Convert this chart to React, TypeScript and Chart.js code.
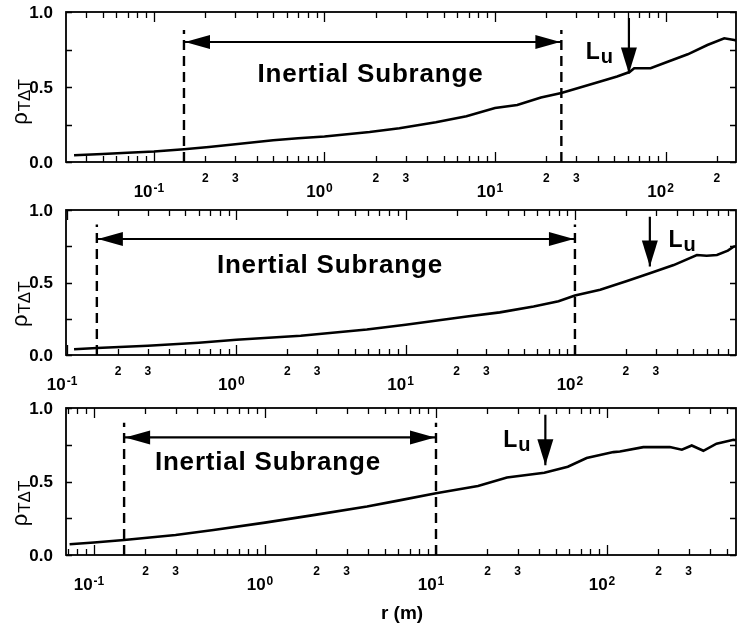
import React, { useEffect, useRef } from "react";
import { Chart, registerables } from "chart.js";

Chart.register(...registerables);

// ---------- data ----------
// Panel 1 (top)
const r1 = [0.034, 0.05, 0.07, 0.1, 0.15, 0.21, 0.3, 0.5, 0.7, 1.0, 1.84, 2.75, 4.5, 6.8, 10, 13.5, 18.6, 24.5, 41, 52, 61.5, 65.5, 81.7, 103, 135, 176, 221, 253, 259];
const rho1 = [0.045, 0.053, 0.062, 0.07, 0.085, 0.1, 0.118, 0.145, 0.158, 0.17, 0.2, 0.225, 0.265, 0.305, 0.36, 0.38, 0.43, 0.46, 0.535, 0.57, 0.6, 0.625, 0.625, 0.668, 0.718, 0.78, 0.825, 0.813, 0.81];
// Panel 2 (middle)
const r2 = [0.11, 0.15, 0.3, 0.6, 1.0, 2.4, 5.9, 10, 23, 36, 57, 80, 100, 141, 203, 277, 383, 525, 600, 690, 800, 865, 894];
const rho2 = [0.04, 0.048, 0.064, 0.085, 0.105, 0.133, 0.176, 0.209, 0.266, 0.294, 0.335, 0.37, 0.41, 0.45, 0.51, 0.564, 0.62, 0.69, 0.685, 0.69, 0.72, 0.747, 0.75];
// Panel 3 (bottom)
const r3 = [0.072, 0.1, 0.15, 0.3, 0.5, 1.0, 1.96, 3.95, 6, 10, 17.6, 26, 43, 59, 76, 109, 119, 163, 233, 274, 313, 366, 437, 549, 568];
const rho3 = [0.073, 0.085, 0.102, 0.136, 0.17, 0.22, 0.273, 0.33, 0.37, 0.42, 0.47, 0.527, 0.56, 0.6, 0.66, 0.7, 0.704, 0.734, 0.734, 0.716, 0.745, 0.709, 0.757, 0.784, 0.78];

const xMins = [0.0305, 0.0986, 0.0686];
const xMaxs = [259, 894, 568];
const yTickValues = [0, 0.5, 1.0];
const yTickLabels = ["0.0", "0.5", "1.0"];
const yMinorTicks = [0.25, 0.75];
const decadeExponents = [-1, 0, 1, 2];
const decadeLabels = ["-1", "0", "1", "2"];
const minorLabelMultipliers = [2, 3];

const subrangeStart = [0.15, 0.15, 0.15];
const subrangeEnd = [24.5, 100, 10];
const subrangeArrowY = [0.8, 0.8, 0.8];
const dashTop = [0.88, 0.9, 0.9];
const subrangeTextX = [1.86, 3.57, 1.04];
const subrangeTextY = [0.533, 0.566, 0.58];
const subrangeText = "Inertial Subrange";

const luX = [61, 277, 43.6];
const luTop = [0.96, 0.954, 0.954];
const luTip = [0.59, 0.61, 0.61];
const luTextX = [34, 357, 24.7];
const luTextY = [0.69, 0.747, 0.738];

const yTitleCenter = [0.4, 0.35, 0.35];
const xTitle = "r (m)";

const curvesR = [r1, r2, r3];
const curvesRho = [rho1, rho2, rho3];

// canvas layout
const canvasTops = [0, 200, 400];
const canvasHeights = [200, 200, 228];
const padTops = [12, 10, 8];
const padBottoms = [38, 45, 73];

const FONT = '"Liberation Sans", Arial, Helvetica, sans-serif';

function drawHead(ctx: CanvasRenderingContext2D, tx: number, ty: number, dx: number, dy: number, len: number, half: number) {
  const bx = tx - dx * len, by = ty - dy * len;
  const nx = -dy, ny = dx;
  ctx.beginPath();
  ctx.moveTo(tx, ty);
  ctx.lineTo(bx + nx * half, by + ny * half);
  ctx.lineTo(bx - nx * half, by - ny * half);
  ctx.closePath();
  ctx.fill();
}

function makeConfig(i: number, isLast: boolean): any {
  const xMin = xMins[i], xMax = xMaxs[i];
  const lineData = curvesR[i].map((x, k) => ({ x, y: curvesRho[i][k] }));
  const black = "#000";

  const overlay = {
    id: "overlay" + i,
    afterDraw(chart: any) {
      const { ctx, chartArea: a, scales } = chart;
      const xs = scales.x, ys = scales.y;
      ctx.save();
      ctx.strokeStyle = black;
      ctx.fillStyle = black;

      // frame
      ctx.lineWidth = 1.8;
      ctx.strokeRect(a.left, a.top, a.right - a.left, a.bottom - a.top);

      // x ticks (inward, top and bottom)
      ctx.lineWidth = 1.3;
      const e0 = Math.floor(Math.log10(xMin)), e1 = Math.ceil(Math.log10(xMax));
      for (let e = e0; e <= e1; e++) {
        for (let m = 1; m <= 9; m++) {
          const v = m * Math.pow(10, e);
          if (v < xMin || v > xMax) continue;
          const px = Math.round(xs.getPixelForValue(v)) + 0.5;
          const len = m === 1 ? 10 : 6;
          ctx.beginPath();
          ctx.moveTo(px, a.bottom);
          ctx.lineTo(px, a.bottom - len);
          ctx.moveTo(px, a.top);
          ctx.lineTo(px, a.top + len);
          ctx.stroke();
        }
      }
      // y ticks (inward, both sides)
      [...yTickValues, ...yMinorTicks].forEach((v) => {
        const py = Math.round(ys.getPixelForValue(v)) + 0.5;
        ctx.beginPath();
        ctx.moveTo(a.left, py);
        ctx.lineTo(a.left + 6, py);
        ctx.moveTo(a.right, py);
        ctx.lineTo(a.right - 6, py);
        ctx.stroke();
      });

      // y tick labels
      ctx.font = `bold 17px ${FONT}`;
      ctx.textAlign = "right";
      ctx.textBaseline = "middle";
      yTickValues.forEach((v, k) => {
        ctx.fillText(yTickLabels[k], a.left - 13, ys.getPixelForValue(v) + 1);
      });

      // x tick labels: minor "2","3" and decades 10^n
      ctx.textBaseline = "alphabetic";
      ctx.textAlign = "center";
      ctx.font = `bold 12px ${FONT}`;
      decadeExponents.forEach((e) => {
        minorLabelMultipliers.forEach((m) => {
          const v = m * Math.pow(10, e);
          if (v < xMin || v > xMax) return;
          ctx.fillText(String(m), xs.getPixelForValue(v), a.bottom + 20);
        });
      });
      decadeExponents.forEach((e, k) => {
        const v = Math.pow(10, e);
        if (v < xMin || v > xMax) return;
        const px = xs.getPixelForValue(v);
        ctx.font = `bold 17px ${FONT}`;
        const w1 = ctx.measureText("10").width;
        ctx.font = `bold 12px ${FONT}`;
        const w2 = ctx.measureText(decadeLabels[k]).width;
        const start = px - 5 - (w1 + w2 + 1) / 2;
        ctx.textAlign = "left";
        ctx.font = `bold 17px ${FONT}`;
        ctx.fillText("10", start, a.bottom + 35);
        ctx.font = `bold 12px ${FONT}`;
        ctx.fillText(decadeLabels[k], start + w1 + 1, a.bottom + 30);
        ctx.textAlign = "center";
      });

      // y title: rho with subscript T Delta T (rotated)
      ctx.save();
      ctx.translate(27, ys.getPixelForValue(yTitleCenter[i]));
      ctx.rotate(-Math.PI / 2);
      ctx.textAlign = "left";
      ctx.font = `22px ${FONT}`;
      const wr = ctx.measureText("\u03C1").width;
      ctx.font = `17px ${FONT}`;
      const ws = ctx.measureText("T\u0394T").width;
      const tot = wr + ws + 1;
      ctx.font = `22px ${FONT}`;
      ctx.fillText("\u03C1", -tot / 2, 0);
      ctx.font = `17px ${FONT}`;
      ctx.fillText("T\u0394T", -tot / 2 + wr + 1, 3);
      ctx.restore();

      // x title (only under the last panel)
      if (isLast) {
        ctx.font = `bold 19px ${FONT}`;
        ctx.textAlign = "center";
        ctx.fillText(xTitle, (a.left + a.right) / 2 + 1, a.bottom + 64);
      }

      // arrowheads of the inertial-subrange arrow
      const ay = ys.getPixelForValue(subrangeArrowY[i]);
      const lx = xs.getPixelForValue(subrangeStart[i]);
      const rx = xs.getPixelForValue(subrangeEnd[i]);
      drawHead(ctx, lx + 1, ay, -1, 0, 25, 7);
      drawHead(ctx, rx - 1, ay, 1, 0, 25, 7);

      // Lu arrowhead
      drawHead(ctx, xs.getPixelForValue(luX[i]), ys.getPixelForValue(luTip[i]), 0, 1, 26, 8);

      // "Inertial Subrange"
      ctx.font = `bold 26px ${FONT}`;
      (ctx as any).letterSpacing = "0.8px";
      ctx.textAlign = "center";
      ctx.fillText(subrangeText, xs.getPixelForValue(subrangeTextX[i]), ys.getPixelForValue(subrangeTextY[i]));
      (ctx as any).letterSpacing = "0px";

      // "Lu"
      ctx.textAlign = "left";
      const lux = xs.getPixelForValue(luTextX[i]);
      const luy = ys.getPixelForValue(luTextY[i]);
      ctx.font = `bold 23px ${FONT}`;
      const wL = ctx.measureText("L").width;
      ctx.fillText("L", lux, luy);
      ctx.font = `bold 20px ${FONT}`;
      ctx.fillText("u", lux + wL + 1, luy + 4);

      ctx.restore();
    },
  };

  return {
    type: "line",
    data: {
      datasets: [
        { data: lineData, borderColor: black, borderWidth: 2.6, pointRadius: 0, tension: 0 },
        { data: [{ x: subrangeStart[i], y: 0 }, { x: subrangeStart[i], y: dashTop[i] }], borderColor: black, borderWidth: 2.4, borderDash: [10, 6], pointRadius: 0 },
        { data: [{ x: subrangeEnd[i], y: 0 }, { x: subrangeEnd[i], y: dashTop[i] }], borderColor: black, borderWidth: 2.4, borderDash: [10, 6], pointRadius: 0 },
        { data: [{ x: subrangeStart[i], y: subrangeArrowY[i] }, { x: subrangeEnd[i], y: subrangeArrowY[i] }], borderColor: black, borderWidth: 2.2, pointRadius: 0 },
        { data: [{ x: luX[i], y: luTop[i] }, { x: luX[i], y: luTip[i] }], borderColor: black, borderWidth: 2.2, pointRadius: 0 },
      ],
    },
    options: {
      responsive: false,
      animation: false,
      events: [],
      layout: { padding: { left: 66, right: 1, top: padTops[i], bottom: padBottoms[i] } },
      plugins: { legend: { display: false }, tooltip: { enabled: false } },
      scales: {
        x: { type: "logarithmic", min: xMin, max: xMax, display: false },
        y: { type: "linear", min: 0, max: 1, display: false },
      },
    },
    plugins: [overlay],
  };
}

function Panel({ index }: { index: number }) {
  const ref = useRef<HTMLCanvasElement | null>(null);
  useEffect(() => {
    if (!ref.current) return;
    const chart = new Chart(ref.current, makeConfig(index, index === 2));
    return () => chart.destroy();
  }, [index]);
  return (
    <canvas
      ref={ref}
      width={737}
      height={canvasHeights[index]}
      style={{ position: "absolute", left: 0, top: canvasTops[index], width: 737, height: canvasHeights[index], display: "block" }}
    />
  );
}

export default function App() {
  return (
    <div style={{ position: "absolute", left: 0, top: 0, width: 737, height: 628, background: "#fff", overflow: "hidden" }}>
      <Panel index={0} />
      <Panel index={1} />
      <Panel index={2} />
    </div>
  );
}
